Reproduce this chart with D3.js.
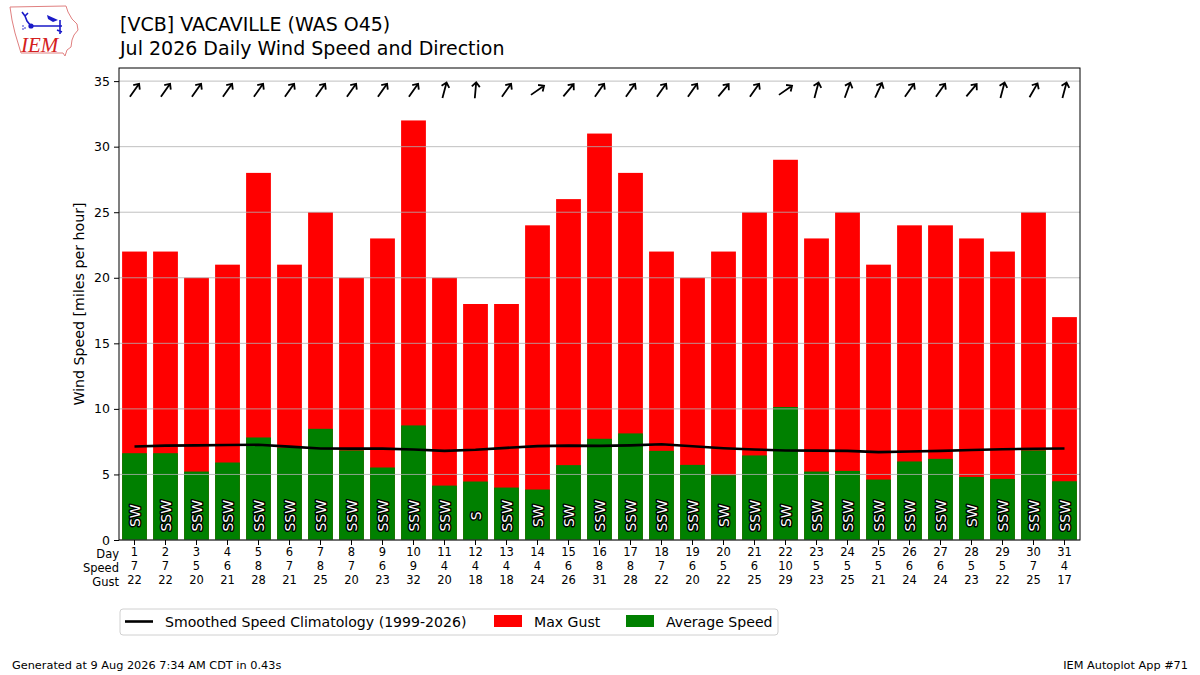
<!DOCTYPE html>
<html>
<head>
<meta charset="utf-8">
<script src="https://cdn.jsdelivr.net/npm/d3@7"></script>
<style>
  body { margin: 0; background: #fff; }
  svg { font-family: "DejaVu Sans", sans-serif; display: block; }
</style>
</head>
<body>
<div id="chart"></div>
<script>
const days = [1, 2, 3, 4, 5, 6, 7, 8, 9, 10, 11, 12, 13, 14, 15, 16, 17, 18, 19, 20, 21, 22, 23, 24, 25, 26, 27, 28, 29, 30, 31];
const avgSpeed = [6.62, 6.62, 5.22, 5.91, 7.82, 7.05, 8.48, 6.83, 5.53, 8.74, 4.15, 4.46, 4.0, 3.85, 5.71, 7.72,
  8.13, 6.8, 5.73, 4.94, 6.45, 10.14, 5.22, 5.27, 4.61, 5.99, 6.19, 4.81, 4.66, 6.83, 4.48];
const maxGust = [22, 22, 20, 21, 28, 21, 25, 20, 23, 32, 20, 18, 18, 24, 26, 31, 28, 22, 20, 22, 25, 29, 23, 25, 21, 24, 24, 23, 22, 25, 17];
const dirLabels = ["SW", "SSW", "SSW", "SSW", "SSW", "SSW", "SSW", "SSW", "SSW", "SSW", "SSW", "S", "SSW", "SW", "SW", "SSW",
  "SSW", "SSW", "SSW", "SW", "SSW", "SW", "SSW", "SSW", "SSW", "SSW", "SSW", "SW", "SSW", "SSW", "SSW"];
// wind direction (degrees, from) used for the arrows along the top
const dirDeg = [215, 215, 215, 215, 215, 215, 215, 215, 215, 215, 195, 185, 215, 235, 220, 215,
  215, 215, 215, 220, 215, 235, 195, 200, 205, 215, 215, 220, 195, 210, 195];
const climo = [7.13, 7.2, 7.22, 7.25, 7.26, 7.12, 6.98, 6.97, 6.97, 6.9, 6.8, 6.88, 7.03, 7.16, 7.2, 7.18,
  7.22, 7.3, 7.15, 7.0, 6.9, 6.83, 6.82, 6.8, 6.7, 6.75, 6.8, 6.86, 6.92, 6.96, 6.98];
const yTicks = [0, 5, 10, 15, 20, 25, 30, 35];
const rowLabels = ["Day", "Speed", "Gust"];

const WIDTH = 1200;
const HEIGHT = 675;
const MARGIN = { top: 68, right: 120, bottom: 135, left: 119 };
const COLORS = { gust: "#ff0000", avg: "#008000", grid: "#b0b0b0", climo: "#000000" };

const svg = d3.select("#chart").append("svg").attr("width", WIDTH).attr("height", HEIGHT);
svg.append("rect").attr("width", WIDTH).attr("height", HEIGHT).attr("fill", "#fff");

const x = d3.scaleBand().domain(days).range([MARGIN.left, WIDTH - MARGIN.right]).paddingInner(0.2).paddingOuter(0.1);
const y = d3.scaleLinear().domain([0, 36]).range([HEIGHT - MARGIN.bottom, MARGIN.top]);
const cx = (d) => x(d) + x.bandwidth() / 2;

const rows = days.map((d, i) => ({
  day: d, avg: avgSpeed[i], gust: maxGust[i], label: dirLabels[i], dir: dirDeg[i], climo: climo[i],
}));

// bars
svg.append("g").selectAll("rect").data(rows).join("rect")
  .attr("x", (d) => x(d.day)).attr("width", x.bandwidth())
  .attr("y", (d) => y(d.gust)).attr("height", (d) => y(0) - y(d.gust))
  .attr("fill", COLORS.gust);
svg.append("g").selectAll("rect").data(rows).join("rect")
  .attr("x", (d) => x(d.day)).attr("width", x.bandwidth())
  .attr("y", (d) => y(d.avg)).attr("height", (d) => y(0) - y(d.avg))
  .attr("fill", COLORS.avg);

// grid over bars
svg.append("g").selectAll("line").data(yTicks).join("line")
  .attr("x1", MARGIN.left).attr("x2", WIDTH - MARGIN.right)
  .attr("y1", (d) => y(d)).attr("y2", (d) => y(d))
  .attr("stroke", COLORS.grid).attr("stroke-width", 0.8);

// climatology line
svg.append("path").datum(rows)
  .attr("fill", "none").attr("stroke", COLORS.climo).attr("stroke-width", 2.6)
  .attr("d", d3.line().x((d) => cx(d.day)).y((d) => y(d.climo)));

// direction labels inside bars
svg.append("g").selectAll("text").data(rows).join("text")
  .attr("transform", (d) => `translate(${cx(d.day)},${y(1.85)}) rotate(-90)`)
  .attr("text-anchor", "middle").attr("dominant-baseline", "central")
  .attr("font-size", 14).attr("fill", "#fff")
  .attr("stroke", "#000").attr("stroke-width", 2.8).attr("paint-order", "stroke")
  .attr("stroke-linejoin", "round")
  .text((d) => d.label);

// arrows along top, pointing where the wind blows to
const arrows = svg.append("g").selectAll("g").data(rows).join("g")
  .attr("transform", (d) => `translate(${cx(d.day)},${y(34.3)}) rotate(${d.dir - 180})`);
arrows.append("path")
  .attr("d", "M0,8 L0,-8 M-4,-3.5 L0,-8 L4,-3.5")
  .attr("fill", "none").attr("stroke", "#000").attr("stroke-width", 1.8)
  .attr("stroke-linecap", "butt").attr("stroke-linejoin", "miter");

// axes
const yAxis = svg.append("g")
  .attr("transform", `translate(${MARGIN.left},0)`)
  .call(d3.axisLeft(y).tickValues(yTicks).tickSize(5).tickSizeOuter(0));
yAxis.select(".domain").remove();
yAxis.selectAll("text").attr("font-size", 12.5).attr("font-family", "DejaVu Sans").attr("fill", "#000").attr("dx", "-1");
yAxis.selectAll("line").attr("stroke", "#000");

const xAxis = svg.append("g")
  .attr("transform", `translate(0,${y(0)})`)
  .call(d3.axisBottom(x).tickSize(5).tickSizeOuter(0));
xAxis.select(".domain").remove();
xAxis.selectAll("line").attr("stroke", "#000");
xAxis.selectAll(".tick text").each(function (d, i) {
  const t = d3.select(this).text(null).attr("font-size", 11.5).attr("font-family", "DejaVu Sans")
    .attr("fill", "#000").attr("y", 8).attr("dy", "0.71em");
  [d, Math.round(avgSpeed[i]), maxGust[i]].forEach((v, k) => {
    t.append("tspan").attr("x", 0).attr("dy", k === 0 ? "0.71em" : 14).text(v);
  });
});
svg.append("g").selectAll("text").data(rowLabels).join("text")
  .attr("x", MARGIN.left).attr("y", (d, i) => y(0) + 18 + i * 14)
  .attr("text-anchor", "end").attr("font-size", 11.5).text((d) => d);

// frame
svg.append("rect")
  .attr("x", MARGIN.left).attr("y", MARGIN.top)
  .attr("width", WIDTH - MARGIN.left - MARGIN.right).attr("height", y(0) - MARGIN.top)
  .attr("fill", "none").attr("stroke", "#000").attr("stroke-width", 1);

svg.append("text")
  .attr("transform", `translate(84,${(MARGIN.top + y(0)) / 2}) rotate(-90)`)
  .attr("text-anchor", "middle").attr("font-size", 14.2).text("Wind Speed [miles per hour]");

// titles
svg.append("text").attr("x", 120).attr("y", 31).attr("font-size", 19).text("[VCB] VACAVILLE (WAS O45)");
svg.append("text").attr("x", 120).attr("y", 55).attr("font-size", 19).text("Jul 2026 Daily Wind Speed and Direction");

// legend
const legend = svg.append("g").attr("transform", "translate(120,609)");
legend.append("rect").attr("width", 658).attr("height", 26).attr("rx", 3)
  .attr("fill", "#fff").attr("stroke", "#d0d0d0").attr("stroke-width", 1);
legend.append("line").attr("x1", 5).attr("x2", 33).attr("y1", 12.5).attr("y2", 12.5)
  .attr("stroke", "#000").attr("stroke-width", 2.6);
legend.append("text").attr("x", 45).attr("y", 17.5).attr("font-size", 14.1).text("Smoothed Speed Climatology (1999-2026)");
legend.append("rect").attr("x", 374).attr("y", 6).attr("width", 28).attr("height", 12).attr("fill", COLORS.gust);
legend.append("text").attr("x", 414).attr("y", 17.5).attr("font-size", 14.1).text("Max Gust");
legend.append("rect").attr("x", 506).attr("y", 6).attr("width", 28).attr("height", 12).attr("fill", COLORS.avg);
legend.append("text").attr("x", 546).attr("y", 17.5).attr("font-size", 14.1).text("Average Speed");

// footer
svg.append("text").attr("x", 12).attr("y", 669).attr("font-size", 11.3).text("Generated at 9 Aug 2026 7:34 AM CDT in 0.43s");
svg.append("text").attr("x", 1188).attr("y", 669).attr("font-size", 11.3).attr("text-anchor", "end").text("IEM Autoplot App #71");

// IEM logo
const logo = svg.append("g");
logo.append("path")
  .attr("d", "M10,7 L66,6 L68,12 L72,19 L77,24 L78,30 L74,35 L72,40 L71,47 L67,50 L65,56 L63,53 L21,53 L18,43 L15,33 L12,20 Z")
  .attr("fill", "none").attr("stroke", "#e08080").attr("stroke-width", 1);
logo.append("path").attr("d", "M31,26 L62,26 M60,20 L60,34 M22,12 L25,16 L28,13 M25,16 L27,21 L31,26 M57,30 L62,32")
  .attr("fill", "none").attr("stroke", "#1a1ac8").attr("stroke-width", 1.6);
logo.append("path").attr("d", "M47,15 L58,20 L53,22 L48,19 Z").attr("fill", "#1a1ac8");
logo.append("circle").attr("cx", 31).attr("cy", 26).attr("r", 2.6).attr("fill", "#1a1ac8");
logo.append("g").selectAll("circle").data([[23, 26], [25, 28], [23, 29]]).join("circle")
  .attr("cx", (d) => d[0]).attr("cy", (d) => d[1]).attr("r", 0.8).attr("fill", "#1a1ac8");
logo.append("text").attr("x", 21).attr("y", 52).attr("font-family", "Liberation Serif").attr("font-style", "italic")
  .attr("font-size", 21).attr("fill", "#d42020").text("IEM");
</script>
</body>
</html>
